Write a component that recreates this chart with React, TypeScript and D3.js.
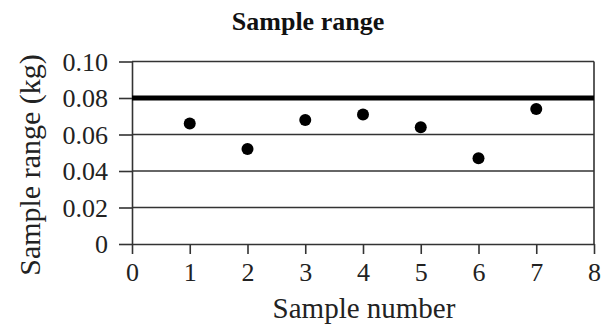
import React, { useEffect, useRef } from 'react';
import * as d3 from 'd3';

const sampleNumbers = [1, 2, 3, 4, 5, 6, 7];
const sampleRanges = [0.066, 0.052, 0.068, 0.071, 0.064, 0.047, 0.074];
const limitValue = 0.08;
const xTicks = [0, 1, 2, 3, 4, 5, 6, 7, 8];
const yTicks = [0, 0.02, 0.04, 0.06, 0.08, 0.1];
const yTickLabels = ['0', '0.02', '0.04', '0.06', '0.08', '0.10'];

const App: React.FC = () => {
  const chartRef = useRef<SVGSVGElement | null>(null);

  useEffect(() => {
    const width = 605;
    const height = 329;
    const margin = { top: 61.5, right: 11, bottom: 85, left: 132 };
    const innerWidth = width - margin.left - margin.right;
    const innerHeight = height - margin.top - margin.bottom;
    const font = '"Liberation Serif", "Times New Roman", serif';

    d3.select(chartRef.current).selectAll('*').remove();

    const root = d3.select(chartRef.current)
      .attr('width', width)
      .attr('height', height)
      .style('position', 'absolute')
      .style('left', '0px')
      .style('top', '0px')
      .style('display', 'block')
      .style('background', '#fff');

    const svg = root.append('g')
      .attr('transform', `translate(${margin.left},${margin.top})`);

    const x = d3.scaleLinear().domain([0, 8]).range([0, innerWidth]);
    const y = d3.scaleLinear().domain([0, 0.1]).range([innerHeight, 0]);

    // horizontal grid lines (including top border)
    svg.selectAll('.grid')
      .data(yTicks.filter(d => d > 0 && d !== limitValue))
      .enter().append('line')
      .attr('class', 'grid')
      .attr('x1', 0)
      .attr('x2', innerWidth)
      .attr('y1', d => y(d))
      .attr('y2', d => y(d))
      .attr('stroke', '#333')
      .attr('stroke-width', 1.6);

    // right border
    svg.append('line')
      .attr('x1', innerWidth).attr('x2', innerWidth)
      .attr('y1', y(0.1)).attr('y2', y(0))
      .attr('stroke', '#333')
      .attr('stroke-width', 1.6);

    // y axis
    const yAxis = svg.append('g')
      .call(d3.axisLeft(y).tickValues(yTicks).tickSize(13).tickSizeOuter(0)
        .tickFormat((d, i) => yTickLabels[i]));
    yAxis.select('.domain').attr('stroke', '#333').attr('stroke-width', 1.6);
    yAxis.selectAll('.tick line').attr('stroke', '#333').attr('stroke-width', 1.6);
    yAxis.selectAll('.tick text')
      .attr('x', -24)
      .attr('dy', '0.34em')
      .attr('font-family', font)
      .attr('font-size', 26)
      .attr('fill', '#222');

    // x axis
    const xAxis = svg.append('g')
      .attr('transform', `translate(0,${innerHeight})`)
      .call(d3.axisBottom(x).tickValues(xTicks).tickSize(10).tickSizeOuter(0)
        .tickFormat(d3.format('d')));
    xAxis.select('.domain').attr('stroke', '#333').attr('stroke-width', 1.6);
    xAxis.selectAll('.tick line').attr('stroke', '#333').attr('stroke-width', 1.6);
    xAxis.selectAll('.tick text')
      .attr('y', 19)
      .attr('dy', '0.71em')
      .attr('font-family', font)
      .attr('font-size', 26)
      .attr('fill', '#222');

    // limit line
    svg.append('line')
      .attr('x1', 0)
      .attr('x2', innerWidth)
      .attr('y1', y(limitValue))
      .attr('y2', y(limitValue))
      .attr('stroke', '#000')
      .attr('stroke-width', 5);

    // points
    svg.selectAll('.dot')
      .data(sampleNumbers)
      .enter().append('circle')
      .attr('class', 'dot')
      .attr('cx', d => x(d))
      .attr('cy', (d, i) => y(sampleRanges[i]))
      .attr('r', 6)
      .attr('fill', '#000');

    // title
    root.append('text')
      .attr('x', 308)
      .attr('y', 30)
      .attr('text-anchor', 'middle')
      .attr('font-family', font)
      .attr('font-weight', 'bold')
      .attr('font-size', 26)
      .attr('fill', '#111')
      .text('Sample range');

    // x label
    root.append('text')
      .attr('x', 364)
      .attr('y', 318)
      .attr('text-anchor', 'middle')
      .attr('font-family', font)
      .attr('font-size', 29)
      .attr('fill', '#222')
      .text('Sample number');

    // y label
    root.append('text')
      .attr('transform', `translate(40,165) rotate(-90)`)
      .attr('text-anchor', 'middle')
      .attr('font-family', font)
      .attr('font-size', 30)
      .attr('fill', '#222')
      .text('Sample range (kg)');
  }, []);

  return <svg ref={chartRef}></svg>;
};

export default App;
